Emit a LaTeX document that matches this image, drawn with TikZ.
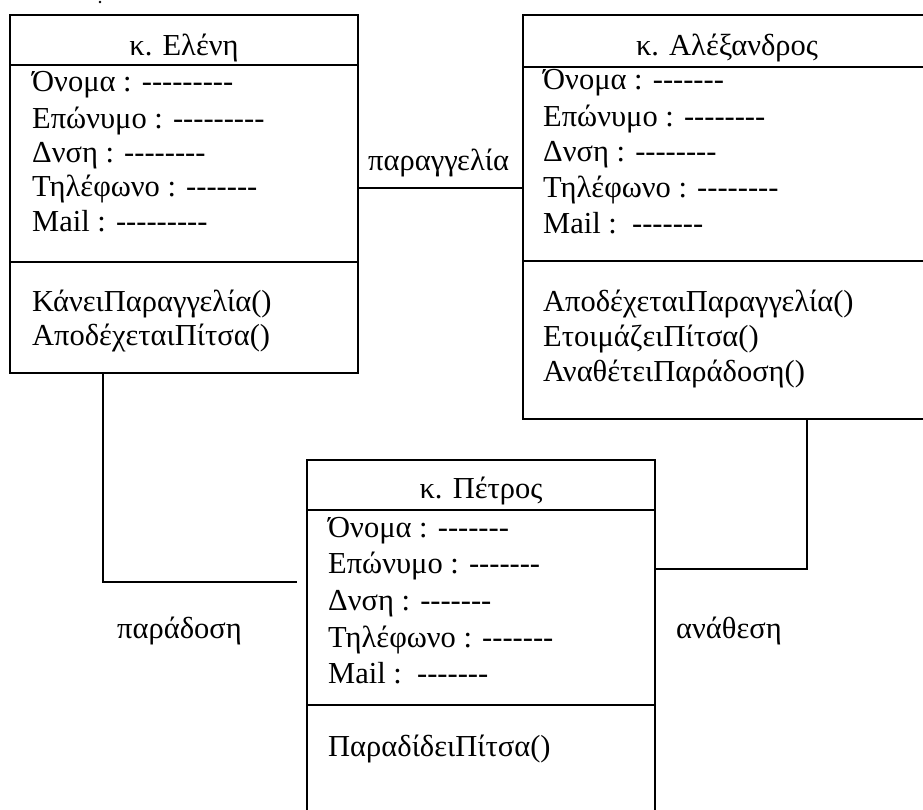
\documentclass[tikz,border=0pt]{standalone}
\usepackage{fontspec}
\setmainfont{Liberation Serif}
\newcommand\dashes[1]{\foreach \i in {1,...,#1}{-\kern0pt}}
\begin{document}
\begin{tikzpicture}[x=1pt,y=-1pt,
  box/.style={draw, line width=1.8pt, inner sep=0pt, outer sep=0pt, anchor=north west},
  txt/.style={anchor=base west, inner sep=0pt, font=\fontsize{30.5}{35}\selectfont},
  hdr/.style={anchor=base, inner sep=0pt, font=\fontsize{30.5}{35}\selectfont},
  divider/.style={line width=1.8pt},
  conn/.style={line width=1.8pt}]
\useasboundingbox (0,0) rectangle (923,810);
\clip (0,0) rectangle (923,810);
% boxes
\node[box, minimum width=348pt, minimum height=358pt] (eleni) at (10,15) {};
\node[box, minimum width=408pt, minimum height=404pt] (alex) at (523,15) {};
\node[box, minimum width=348pt, minimum height=400pt] (petros) at (307,460) {};
\draw[divider] (10,65) -- (358,65);
\draw[divider] (10,262) -- (358,262);
\draw[divider] (523,67) -- (931,67);
\draw[divider] (523,261) -- (931,261);
\draw[divider] (307,510) -- (655,510);
\draw[divider] (307,705) -- (655,705);
% stray mark
\fill (100,2) circle (1.4);
% Eleni
\node[hdr] (eh) at (184,56) {κ. Ελένη};
\node[txt] (e1) at (32,92) {Όνομα : \dashes{9}};
\node[txt] (e2) at (32,129) {Επώνυμο : \dashes{9}};
\node[txt] (e3) at (32,163) {Δνση : \dashes{8}};
\node[txt] (e4) at (32,197) {Τηλέφωνο : \dashes{7}};
\node[txt] (e5) at (32,232) {Mail : \dashes{9}};
\node[txt] (e6) at (32,311) {ΚάνειΠαραγγελία()};
\node[txt] (e7) at (32,345) {ΑποδέχεταιΠίτσα()};
% Alexandros
\node[hdr] (ah) at (727,56) {κ. Αλέξανδρος};
\node[txt] (a1) at (543,90) {Όνομα : \dashes{7}};
\node[txt] (a2) at (543,127) {Επώνυμο : \dashes{8}};
\node[txt] (a3) at (543,162) {Δνση : \dashes{8}};
\node[txt] (a4) at (543,198) {Τηλέφωνο : \dashes{8}};
\node[txt] (a5) at (543,234) {Mail :\ \ \dashes{7}};
\node[txt] (a6) at (543,311) {ΑποδέχεταιΠαραγγελία()};
\node[txt] (a7) at (543,346) {ΕτοιμάζειΠίτσα()};
\node[txt] (a8) at (543,381) {ΑναθέτειΠαράδοση()};
% Petros
\node[hdr] (ph) at (481,498) {κ. Πέτρος};
\node[txt] (p1) at (328,537) {Όνομα : \dashes{7}};
\node[txt] (p2) at (328,573) {Επώνυμο : \dashes{7}};
\node[txt] (p3) at (328,610) {Δνση : \dashes{7}};
\node[txt] (p4) at (328,647) {Τηλέφωνο : \dashes{7}};
\node[txt] (p5) at (328,683) {Mail :\ \ \dashes{7}};
\node[txt] (p6) at (328,756) {ΠαραδίδειΠίτσα()};
% connectors
\coordinate (oc) at (440,188);
\draw[conn] (eleni.east |- oc) -- (alex.west |- oc);
\node[txt] (lo) at (368,171) {παραγγελία};
\coordinate (pc) at (103,582);
\coordinate (pend) at (297,582);
\draw[conn] (eleni.south -| pc) |- (pend);
\node[txt] (lp) at (117,638) {παράδοση};
\coordinate (ac) at (807,569);
\draw[conn] (alex.south -| ac) |- (petros.east |- ac);
\node[txt] (la) at (676,638) {ανάθεση};
\end{tikzpicture}
\end{document}
